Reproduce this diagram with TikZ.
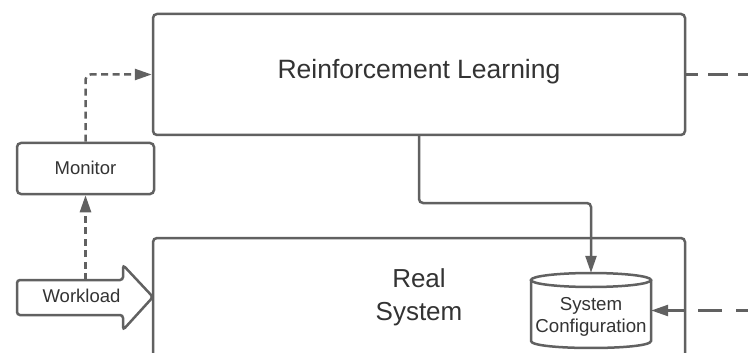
\documentclass[tikz,border=0pt]{standalone}
\usepackage{fontspec}
\setmainfont{Liberation Sans}
\usetikzlibrary{arrows.meta}
\definecolor{ln}{RGB}{97,97,97}
\definecolor{tx}{RGB}{51,51,51}
\begin{document}
\begin{tikzpicture}[x=1pt,y=-1pt,
  box/.style={draw=ln, line width=2.5pt, rounded corners=4pt, inner sep=0pt, fill=white},
  lbl/.style={text=tx, inner sep=0pt},
  big/.style={font=\fontsize{26}{33}\selectfont},
  mid/.style={font=\fontsize{18.5}{22}\selectfont},
  small/.style={font=\fontsize{18.7}{22}\selectfont},
  wire/.style={draw=ln, line width=2.5pt},
  conn/.style={wire, -{Triangle[length=17pt,width=11pt]}},
  ldash/.style={dash pattern=on 7pt off 4.5pt},
]
\useasboundingbox (0,0) rectangle (748,353);
\clip (0,0) rectangle (748,353);

% boxes
\node[box, minimum width=532pt, minimum height=121pt] (rl) at (419,74.5) {};
\node[lbl, font=\fontsize{26.5}{33}\selectfont, anchor=base] (rltxt) at (419,79) {Reinforcement Learning};

\node[box, minimum width=137pt, minimum height=51pt] (mon) at (85.5,168.5) {};
\node[lbl, mid, anchor=base] (montxt) at (85.5,174) {Monitor};

\node[box, minimum width=532pt, minimum height=182pt] (real) at (419,329) {};
\node[lbl, big, align=center] (realtxt) at (419,297) {Real\\System};

% workload arrow
\draw[wire, fill=white, rounded corners=3pt] (17,280) -- (123,280) -- (123,265) -- (153,297) -- (123,330) -- (123,315) -- (17,315) -- cycle;
\node[lbl, mid, anchor=base] (wl) at (81.5,302) {Workload};
\coordinate (wltop) at (85.5,280);

% cylinder
\node[inner sep=0pt, minimum width=120pt, minimum height=75pt] (cyl) at (591,310.5) {};
\draw[wire, fill=white] (531,280) -- (531,341) .. controls (531,350.33) and (651,350.33) .. (651,341) -- (651,280);
\draw[wire, fill=white] (591,280) ellipse [x radius=60pt, y radius=7pt];
\node[lbl, small, align=center] (cfg) at (591,317) {System\\Configuration};

% connectors
\coordinate (bend) at (0,203);
\draw[conn, rounded corners=4pt] (rl.south) |- (cyl.north |- bend) -- (cyl.north);
\draw[conn, ldash, rounded corners=5pt] (mon.north) |- (rl.west);
\draw[conn, ldash] (wltop) -- (mon.south);

\coordinate (e1) at (760,74.5);
\draw[wire, dash pattern=on 20pt off 10pt, dash phase=8pt] (rl.east) -- (e1);
\coordinate (e2) at (760,310.5);
\draw[conn, dash pattern=on 24pt off 14pt] (e2) -- (cyl.east);
\end{tikzpicture}
\end{document}
